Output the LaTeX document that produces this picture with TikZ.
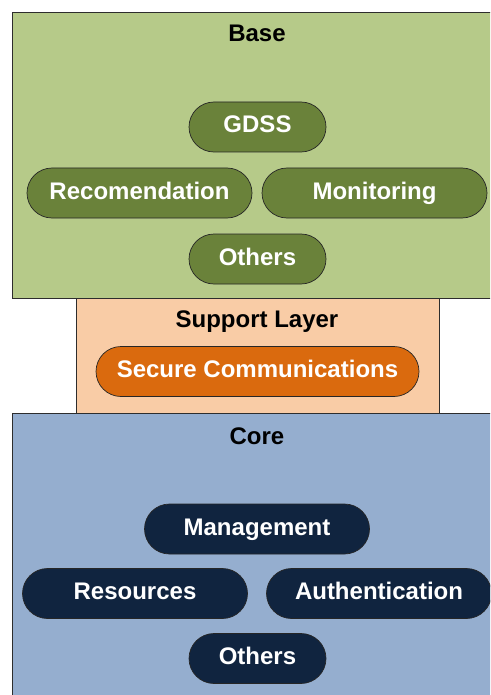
\documentclass[tikz,border=0pt]{standalone}
\usepackage{fontspec}
\setmainfont{Liberation Sans}
\usepackage{xcolor}
\usepackage{tikz}
\usetikzlibrary{positioning}
\definecolor{basegreen}{RGB}{182,202,137}
\definecolor{pillgreen}{RGB}{106,130,58}
\definecolor{supportpeach}{RGB}{249,204,166}
\definecolor{pillorange}{RGB}{218,106,14}
\definecolor{coreblue}{RGB}{149,174,207}
\definecolor{pillnavy}{RGB}{16,36,63}
\definecolor{edgegray}{RGB}{45,45,45}

\begin{document}
\begin{tikzpicture}[
  x=1pt,y=-1pt,
  every node/.style={font=\fontsize{24}{28}\selectfont\bfseries},
  layer/.style={draw=edgegray,line width=0.8pt,anchor=north west,inner sep=0pt},
  title/.style={text=black,text height=17pt,text depth=5pt,inner sep=0pt},
  pill/.style={draw=black!85,line width=0.7pt,rounded corners=25pt,minimum height=50pt,text=white,inner sep=0pt,text height=17pt,text depth=5pt},
  pillwide/.style={pill,minimum width=225pt},
  pillshort/.style={pill,minimum width=137pt},
]
  \useasboundingbox (0,0) rectangle (490,695);
  \clip (0,0) rectangle (490,695);

  % layers
  \node[layer,fill=basegreen,minimum width=490pt,minimum height=286pt] (base) at (12,12) {};
  \node[layer,fill=supportpeach,minimum width=363pt,minimum height=115pt] (support) at (76,298) {};
  \node[layer,fill=coreblue,minimum width=490pt,minimum height=320pt] (core) at (12,413) {};

  % base layer
  \node[title] (basetitle) at (257,36) {Base};
  \node[pillshort,fill=pillgreen] (gdss) at (257.5,127) {GDSS};
  \node[pillwide,fill=pillgreen] (recom) at (139.5,193) {Recomendation};
  \node[pillwide,fill=pillgreen] (monit) at (374.5,193) {Monitoring};
  \node[pillshort,fill=pillgreen] (baseothers) at (257.5,259) {Others};

  % support layer
  \node[title] (supporttitle) at (257,321) {Support Layer};
  \node[pill,fill=pillorange,minimum width=323pt] (securecomm) at (257.5,371.5) {Secure Communications};

  % core layer
  \node[title] (coretitle) at (257,438) {Core};
  \node[pillwide,fill=pillnavy] (manage) at (257,529) {Management};
  \node[pillwide,fill=pillnavy] (resources) at (135,593.5) {Resources};
  \node[pillwide,fill=pillnavy] (auth) at (379,593.5) {Authentication};
  \node[pillshort,fill=pillnavy] (coreothers) at (257.5,658.5) {Others};
\end{tikzpicture}
\end{document}
